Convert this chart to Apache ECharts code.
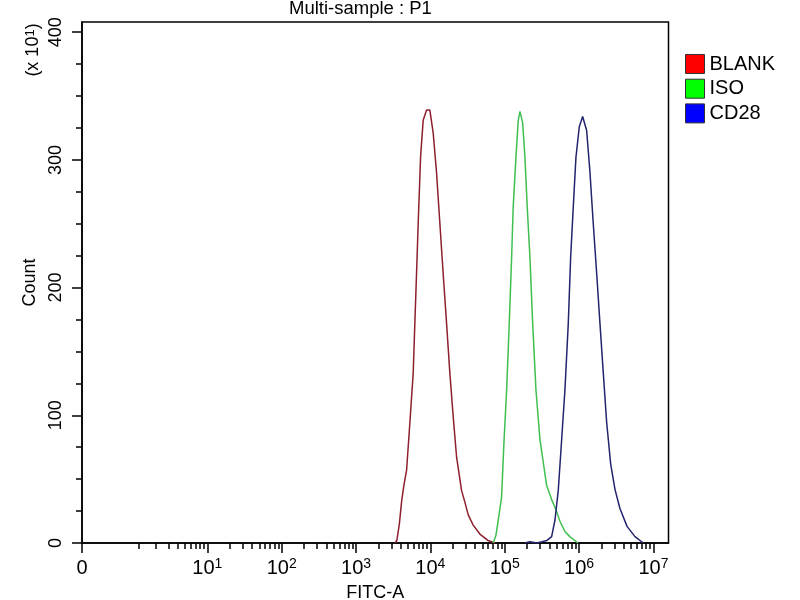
<!DOCTYPE html>
<html>
<head>
<meta charset="utf-8">
<style>
  html, body { margin: 0; padding: 0; background: #fff; }
  #chart { width: 800px; height: 600px; }
</style>
<script src="https://cdn.jsdelivr.net/npm/echarts@6/dist/echarts.min.js"></script>
</head>
<body>
<div id="chart"></div>
<script>
// x is in decades of FITC-A (log10), left end of the axis is the "0" label
var xMin = -0.686, xMax = 7.203;
var yMin = 0, yMax = 408;

var xMajorTicks = [-0.686, 1, 2, 3, 4, 5, 6, 7];
var minorMultipliers = [2, 3, 4, 5, 6, 7, 8, 9];
var xFirstMinor = 0.076;
var yMajorTicks = [0, 100, 200, 300, 400];
var yMinorTicks = [25, 50, 75, 125, 150, 175, 225, 250, 275, 325, 350, 375];

var seriesNames = ['BLANK', 'ISO', 'CD28'];

var blankX = [3.522, 3.549, 3.583, 3.612, 3.643, 3.680, 3.724, 3.769, 3.791, 3.814, 3.836, 3.868, 3.903, 3.949, 3.993,
  4.038, 4.083, 4.128, 4.172, 4.218, 4.262, 4.307, 4.353, 4.420, 4.464, 4.509, 4.576, 4.666, 4.774, 4.868];
var blankCount = [0, 2, 15, 32, 45, 57, 94, 133, 172, 211, 250, 302, 331, 339, 339,
  321, 290, 250, 211, 172, 133, 99, 67, 41, 32, 22, 14, 7, 2, 0];

var isoX = [4.845, 4.882, 4.913, 4.958, 4.989, 5.026, 5.061, 5.093, 5.114, 5.151, 5.182, 5.205,
  5.241, 5.272, 5.303, 5.339, 5.376, 5.420, 5.474, 5.564, 5.631, 5.689, 5.743, 5.810, 5.876, 5.985];
var isoCount = [0, 6, 18, 36, 78, 120, 172, 224, 263, 302, 331, 338,
  329, 302, 263, 224, 172, 120, 81, 45, 34, 26, 17, 9, 5, 0];

var cd28X = [5.272, 5.339, 5.433, 5.501, 5.568, 5.631, 5.676, 5.720, 5.766, 5.810, 5.855, 5.887, 5.922, 5.958, 6.003, 6.048,
  6.102, 6.147, 6.191, 6.237, 6.281, 6.326, 6.372, 6.425, 6.483, 6.550, 6.645, 6.752, 6.864];
var cd28Count = [0, 1, 0, 1, 2, 5, 18, 41, 81, 120, 172, 224, 263, 302, 326, 334,
  323, 290, 250, 211, 172, 133, 94, 62, 42, 27, 13, 5, 0];

var lineColors = ['#8e1f2e', '#3fbf4f', '#23236e'];
var legendColors = ['#ff0000', '#00ff00', '#0000ff'];

var font = '"Liberation Sans", Arial, sans-serif';

function pairs(xs, ys) {
    var out = [];
    for (var i = 0; i < xs.length; i++) out.push([xs[i], ys[i]]);
    return out;
}

var xMinorTicks = [xFirstMinor];
for (var d = 0; d < 7; d++) {
    minorMultipliers.forEach(function (k) { xMinorTicks.push(d + Math.log10(k)); });
}

(function () {
    var chart = echarts.init(document.getElementById('chart'));

    var allData = [pairs(blankX, blankCount), pairs(isoX, isoCount), pairs(cd28X, cd28Count)];

    var option = {
        animation: false,
        backgroundColor: '#fff',
        title: {
            text: 'Multi-sample : P1',
            left: 289,
            top: -1,
            padding: 0,
            textStyle: { fontFamily: font, fontSize: 18.5, fontWeight: 'normal', color: '#000' }
        },
        legend: {
            orient: 'vertical',
            left: 685,
            top: 54,
            padding: 0,
            icon: 'rect',
            itemWidth: 19,
            itemHeight: 19,
            itemGap: 4.7,
            itemTextGap: 10,
            textStyle: { fontFamily: font, fontSize: 20, color: '#000', lineHeight: 19 },
            data: seriesNames.map(function (n, i) {
                return { name: n, itemStyle: { color: legendColors[i], borderColor: '#333', borderWidth: 1 } };
            })
        },
        graphic: [{
            type: 'text',
            x: 33,
            y: 50,
            rotation: Math.PI / 2,
            style: {
                text: '(x 10{s|1})',
                fontFamily: font,
                fontSize: 18,
                fill: '#000',
                align: 'center',
                verticalAlign: 'middle',
                rich: { s: { fontSize: 13, verticalAlign: 'top', fontFamily: font, fill: '#000' } }
            }
        }],
        grid: {
            left: 82,
            right: 131.5,
            top: 22,
            bottom: 57,
            outerBoundsMode: 'none',
            show: true,
            borderColor: '#000',
            borderWidth: 1.5
        },
        xAxis: [{
            type: 'value',
            min: xMin,
            max: xMax,
            name: 'FITC-A',
            nameLocation: 'middle',
            nameGap: 41,
            nameMoveOverlap: false,
            nameTextStyle: { fontFamily: font, fontSize: 18, color: '#000' },
            axisLine: { onZero: false, lineStyle: { color: '#000', width: 1.5 } },
            axisTick: { length: 10, lineStyle: { color: '#000', width: 1.5 }, customValues: xMajorTicks },
            axisLabel: {
                customValues: xMajorTicks,
                margin: 14,
                fontFamily: font,
                fontSize: 20,
                color: '#000',
                formatter: function (v) {
                    if (v < 0) return '{b|0}';
                    return '{b|10}{s|' + Math.round(v) + '}';
                },
                rich: {
                    b: { fontFamily: font, fontSize: 20, color: '#000', lineHeight: 22 },
                    s: { fontFamily: font, fontSize: 14, color: '#000', verticalAlign: 'top', lineHeight: 22 }
                }
            },
            splitLine: { show: false }
        }, {
            type: 'value',
            min: xMin,
            max: xMax,
            position: 'bottom',
            axisLine: { show: false, onZero: false },
            axisTick: { length: 6, lineStyle: { color: '#000', width: 1.5 }, customValues: xMinorTicks },
            axisLabel: { show: false },
            splitLine: { show: false }
        }],
        yAxis: [{
            type: 'value',
            min: yMin,
            max: yMax,
            name: 'Count',
            nameLocation: 'middle',
            nameGap: 43,
            nameMoveOverlap: false,
            nameTextStyle: { fontFamily: font, fontSize: 18, color: '#000' },
            axisLine: { onZero: false, lineStyle: { color: '#000', width: 1.5 } },
            axisTick: { length: 10, lineStyle: { color: '#000', width: 1.5 }, customValues: yMajorTicks },
            axisLabel: {
                customValues: yMajorTicks,
                rotate: 90,
                margin: 17,
                fontFamily: font,
                fontSize: 18,
                color: '#000'
            },
            splitLine: { show: false }
        }, {
            type: 'value',
            min: yMin,
            max: yMax,
            position: 'left',
            offset: 0,
            axisLine: { show: false, onZero: false },
            axisTick: { show: true, length: 6, lineStyle: { color: '#000', width: 1.5 }, customValues: yMinorTicks },
            axisLabel: { show: false },
            splitLine: { show: false }
        }],
        series: seriesNames.map(function (n, i) {
            return {
                name: n,
                type: 'line',
                xAxisIndex: 0,
                yAxisIndex: 0,
                showSymbol: false,
                data: allData[i],
                color: legendColors[i],
                lineStyle: { color: lineColors[i], width: 1.5 },
                z: 3
            };
        })
    };

    chart.setOption(option);
})();
</script>
</body>
</html>
